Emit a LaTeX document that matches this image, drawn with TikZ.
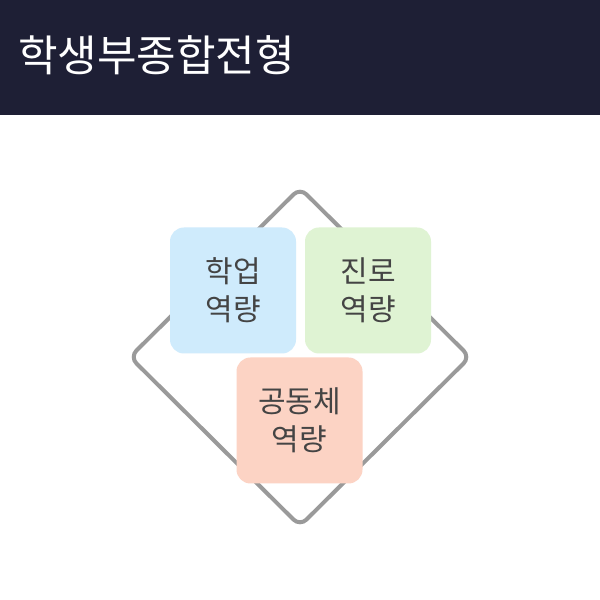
\documentclass[tikz,border=0pt]{standalone}
\usepackage{fontspec}
\setmainfont{Noto Sans CJK KR}
\definecolor{hdr}{HTML}{1E1F35}
\definecolor{dia}{HTML}{9A9A9A}
\definecolor{bblue}{HTML}{CFEBFC}
\definecolor{bgreen}{HTML}{DFF3D3}
\definecolor{bsalmon}{HTML}{FCD3C4}
\definecolor{txt}{HTML}{444444}
\tikzset{card/.style={rounded corners=14pt, minimum width=126pt, minimum height=126pt, align=center, text=txt, font=\fontsize{30pt}{38pt}\selectfont, inner sep=0pt}}
\begin{document}
\begin{tikzpicture}[x=1pt,y=1pt]
\useasboundingbox (0,0) rectangle (600,600);
\fill[white] (0,0) rectangle (600,600);
\fill[hdr] (0,485) rectangle (600,600);
\node[anchor=west, text=white, font=\fontsize{43pt}{48pt}\selectfont, inner sep=0pt] (title) at (18,545) {학생부종합전형};
\draw[dia, line width=4pt, rounded corners=9pt] (300,412) -- (470,243) -- (300,74) -- (130,243) -- cycle;
\node[card, fill=bblue] (a) at (233,309.5) {학업\\역량};
\node[card, fill=bgreen] (b) at (368,309.5) {진로\\역량};
\node[card, fill=bsalmon] (c) at (299.5,179.5) {공동체\\역량};
\end{tikzpicture}
\end{document}
